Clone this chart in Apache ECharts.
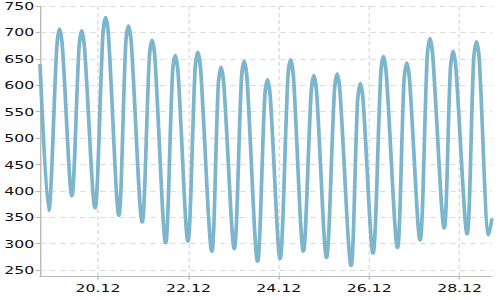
<!DOCTYPE html>
<html>
<head>
<meta charset="utf-8">
<script src="https://cdn.jsdelivr.net/npm/echarts@6/dist/echarts.min.js"></script>
<style>
html,body{margin:0;padding:0;background:#fff;overflow:hidden;}
#chart{width:350px;height:300px;transform:scaleX(1.428571);transform-origin:0 0;}
</style>
</head>
<body>
<div id="chart"></div>
<script>
// December 2024, "day hour:minute" (UTC)
const times = [
 '18 17:12','18 21:48','19 02:07','19 03:37','19 05:07','19 10:07','19 13:53','19 15:23','19 16:53',
 '19 22:25','20 02:34','20 04:04','20 05:34','20 11:05','20 14:43','20 16:13','20 17:43',
 '20 23:27','21 03:14','21 04:44','21 06:14','21 11:55','21 15:33','21 17:03','21 18:33',
 '21 23:45','22 03:32','22 05:02','22 06:32','22 12:26','22 15:51','22 17:21','22 18:51',
 '23 00:22','23 04:09','23 05:39','23 07:09','23 12:44','23 16:31','23 18:01','23 19:31',
 '24 00:40','24 04:49','24 06:19','24 07:49','24 13:02','24 17:08','24 18:38','24 20:08',
 '25 01:20','25 05:30','25 07:00','25 08:30','25 14:23','25 17:48','25 19:18','25 20:48',
 '26 02:01','26 06:07','26 07:37','26 09:07','26 15:01','26 18:28','26 19:58','26 21:28',
 '27 03:00','27 06:47','27 08:17','27 09:47','27 15:50','27 19:05','27 20:35','27 22:05',
 '28 03:59','28 07:27','28 08:57','28 10:27','28 15:27','28 17:12'
];
const levels = [
 640,362,672,707,672,390,669,704,669,
 367,694,729,694,353,678,713,678,
 340,651,686,651,301,622,657,622,
 304,628,663,628,285,600,635,600,
 290,611,646,611,266,576,611,576,
 271,614,649,614,285,584,619,584,
 273,587,622,587,258,569,604,569,
 281,620,655,620,292,608,643,608,
 306,654,689,654,329,630,665,630,
 318,648,683,648,316,348
];
const yTicks = [250,300,350,400,450,500,550,600,650,700,750];
const xTickDays = [20,22,24,26,28];
const yMin = 238, yMax = 750;

function toMs(s){
  const [d, hm] = s.split(' ');
  const [h, m] = hm.split(':').map(Number);
  return Date.UTC(2024, 11, Number(d), h, m);
}
const data = times.map((t,i)=>[toMs(t), levels[i]]);
const xMin = Date.UTC(2024,11,18,17,12);
const xMax = Date.UTC(2024,11,28,17,12);
const xTicks = xTickDays.map(d=>Date.UTC(2024,11,d,0,0));

const chart = echarts.init(document.getElementById('chart'), null, {renderer:'svg'});
chart.setOption({
  animation:false,
  grid:{left:26.6,right:5.6,top:5.9,bottom:23.5,containLabel:false},
  xAxis:{
    type:'value',min:xMin,max:xMax,
    axisLine:{show:true,lineStyle:{color:'#bbb',width:1}},
    axisTick:{show:true,customValues:xTicks,length:3,lineStyle:{color:'#bbb'}},
    axisLabel:{customValues:xTicks,color:'#111',fontSize:11,fontFamily:'DejaVu Sans',margin:6,
      formatter:v=>{const d=new Date(v);return String(d.getUTCDate()).padStart(2,'0')+'.'+String(d.getUTCMonth()+1).padStart(2,'0');}},
    splitLine:{show:true,lineStyle:{color:'#ddd',type:[4,3],width:1}}
  },
  yAxis:{
    type:'value',min:yMin,max:yMax,
    axisLine:{show:true,lineStyle:{color:'#bbb',width:1}},
    axisTick:{show:true,customValues:yTicks,length:3,lineStyle:{color:'#bbb'}},
    axisLabel:{customValues:yTicks,color:'#111',fontSize:11,fontFamily:'DejaVu Sans',margin:4},
    splitLine:{show:true,lineStyle:{color:'#ddd',type:[4,3],width:1}}
  },
  series:[{
    type:'line',data:data,showSymbol:false,symbol:'none',smooth:0.3,
    lineStyle:{color:'#7db5cd',width:2.6},
    clip:true
  }]
});
</script>
</body>
</html>
